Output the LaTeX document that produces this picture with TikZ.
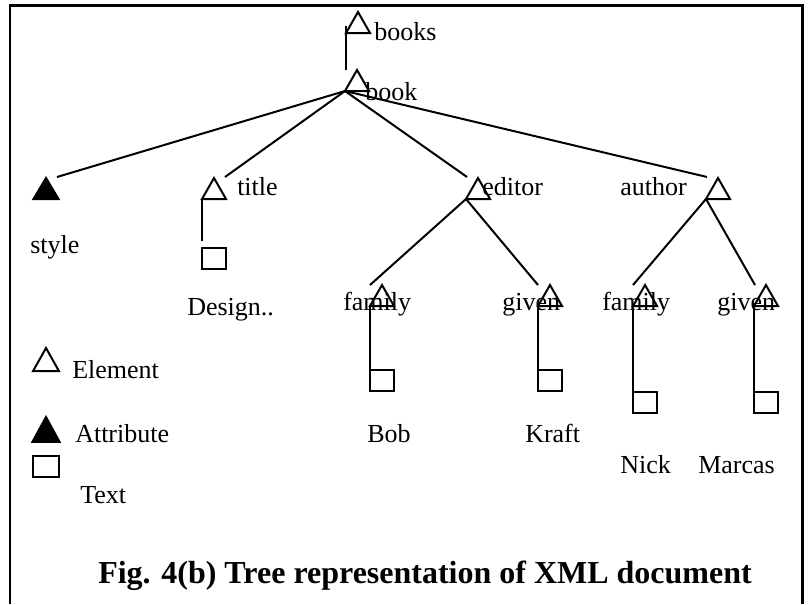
\documentclass[tikz,border=0pt]{standalone}
\usepackage{fontspec}
\setmainfont{Liberation Serif}
\usetikzlibrary{calc}
\tikzset{
  treeline/.style={line width=1.5pt, line join=miter},
  % element: open triangle, apex at the origin
  elemtri/.pic={
    \draw[treeline] (0,0) -- (-12,21) -- (12,21) -- cycle;
    \coordinate (-apex) at (0,0);
    \coordinate (-bl) at (-12,21);
    \coordinate (-br) at (12,21);
  },
  % attribute: filled triangle
  attrtri/.pic={
    \filldraw[treeline] (0,0) -- (-12.5,21) -- (12.5,21) -- cycle;
    \coordinate (-apex) at (0,0);
    \coordinate (-bl) at (-12.5,21);
  },
  % text: small square, top-left corner at the origin
  textbox/.pic={
    \draw[treeline] (0,0) rectangle (24,21);
    \coordinate (-tl) at (0,0);
  },
  lbl/.style={anchor=base west, inner sep=0pt, font=\fontsize{19.5}{23}\selectfont},
  captionstyle/.style={anchor=base west, inner sep=0pt, font=\fontsize{24}{28}\selectfont\bfseries},
}
\begin{document}
\begin{tikzpicture}[x=0.75pt, y=-0.75pt]
\useasboundingbox (0,0) rectangle (809,604);

% open frame
\draw[line width=1.6pt] (10,604) -- (10,5.5) -- (802.5,5.5) -- (802.5,604);

% tree nodes
\pic (books) at (358,12) {elemtri};
\pic (book) at (357,70) {elemtri};
\pic (style) at (46,178) {attrtri};
\pic (title) at (214,178) {elemtri};
\pic (editor) at (478,178) {elemtri};
\pic (author) at (718,178) {elemtri};
\pic (fam1) at (382,285) {elemtri};
\pic (giv1) at (550,285) {elemtri};
\pic (fam2) at (645,285) {elemtri};
\pic (giv2) at (766,285) {elemtri};

% text leaves
\pic (design) at (202,248) {textbox};
\pic (bob) at (370,370) {textbox};
\pic (kraft) at (538,370) {textbox};
\pic (nick) at (633,392) {textbox};
\pic (marcas) at (754,392) {textbox};

% connectors
\draw[treeline] ($(books-bl)+(0,-7)$) -- (books-bl |- book-apex);
\draw[treeline] (book-bl) -- ($(style-apex)+(11,-1)$);
\draw[treeline] (book-bl) -- ($(title-apex)+(11,-1)$);
\draw[treeline] (book-bl) -- ($(editor-apex)+(-11,-1)$);
\draw[treeline] (book-bl) -- ($(author-apex)+(-11,-1)$);
\draw[treeline] (editor-bl) -- ($(fam1-apex)+(-12,0)$);
\draw[treeline] (editor-bl) -- ($(giv1-apex)+(-12,0)$);
\draw[treeline] (author-bl) -- ($(fam2-apex)+(-12,0)$);
\draw[treeline] (author-bl) -- ($(giv2-apex)+(-11,0)$);
\draw[treeline] (title-bl) -- ($(design-tl)+(0,-7)$);
\draw[treeline] (fam1-bl) -- (fam1-bl |- bob-tl);
\draw[treeline] (giv1-bl) -- (giv1-bl |- kraft-tl);
\draw[treeline] (fam2-bl) -- (fam2-bl |- nick-tl);
\draw[treeline] (giv2-bl) -- (giv2-bl |- marcas-tl);

% labels
\node[lbl] (lbooks) at (374,40) {books};
\node[lbl] (lbook) at (365,100) {book};
\node[lbl] (ltitle) at (237,195) {title};
\node[lbl] (leditor) at (482,195) {editor};
\node[lbl] (lauthor) at (620,195) {author};
\node[lbl] (lstyle) at (30,253) {style};
\node[lbl] (ldesign) at (187,315) {Design..};
\node[lbl] (lfam1) at (343,310) {family};
\node[lbl] (lgiv1) at (502,310) {given};
\node[lbl] (lfam2) at (602,310) {family};
\node[lbl] (lgiv2) at (717,310) {given};
\node[lbl] (lbob) at (367,442) {Bob};
\node[lbl] (lkraft) at (525,442) {Kraft};
\node[lbl] (lnick) at (620,473) {Nick};
\node[lbl] (lmarcas) at (698,473) {Marcas};

% legend
\pic[xscale=1.08, yscale=1.1] (legelem) at (46,348) {elemtri};
\pic[xscale=1.08, yscale=1.18] (legattr) at (46,417) {attrtri};
\pic[xscale=1.08] (legtext) at (33,456) {textbox};
\node[lbl] (lelement) at (72,378) {Element};
\node[lbl] (lattribute) at (75,442) {Attribute};
\node[lbl] (ltext) at (80,503) {Text};

% caption
\node[captionstyle] (caption) at (98,583) {Fig. 4(b) Tree representation of XML document};
\end{tikzpicture}
\end{document}
